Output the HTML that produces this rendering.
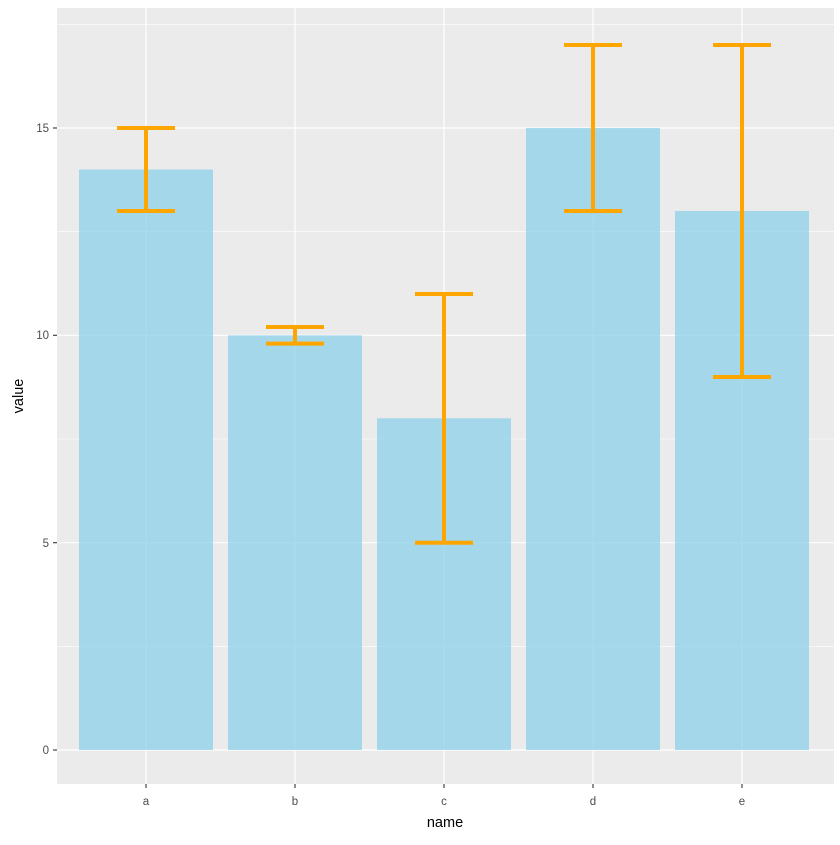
<!DOCTYPE html>
<html><head><meta charset="utf-8"><style>body{margin:0;background:#fff}</style></head><body>
<svg width="840" height="840" xmlns="http://www.w3.org/2000/svg" font-family="Liberation Sans, sans-serif">
<rect width="840" height="840" fill="#fff"/>
<rect x="57" y="8" width="777" height="776" fill="#ebebeb"/>
<g stroke="#fff" stroke-width="0.6">
<line x1="57" x2="834" y1="646.3" y2="646.3"/>
<line x1="57" x2="834" y1="439" y2="439"/>
<line x1="57" x2="834" y1="231.7" y2="231.7"/>
<line x1="57" x2="834" y1="24.4" y2="24.4"/>
</g>
<g stroke="#fff" stroke-width="1.2">
<line x1="57" x2="834" y1="750" y2="750"/>
<line x1="57" x2="834" y1="542.7" y2="542.7"/>
<line x1="57" x2="834" y1="335.3" y2="335.3"/>
<line x1="57" x2="834" y1="128" y2="128"/>
<line y1="8" y2="784" x1="146" x2="146"/>
<line y1="8" y2="784" x1="295" x2="295"/>
<line y1="8" y2="784" x1="444" x2="444"/>
<line y1="8" y2="784" x1="593" x2="593"/>
<line y1="8" y2="784" x1="742" x2="742"/>
</g>
<g fill="#87ceeb" fill-opacity="0.7">
<rect x="79" y="169.5" width="134" height="580.5"/>
<rect x="228" y="335.3" width="134" height="414.7"/>
<rect x="377" y="418.3" width="134" height="331.7"/>
<rect x="526" y="128" width="134" height="622"/>
<rect x="675" y="211" width="134" height="539"/>
</g>
<g stroke="#FFA500" stroke-width="4" fill="none">
<path d="M117 128H175M146 128V211M117 211H175"/>
<path d="M266 327H324M295 327V343.6M266 343.6H324"/>
<path d="M415 294H473M444 294V542.7M415 542.7H473"/>
<path d="M564 45H622M593 45V211M564 211H622"/>
<path d="M713 45H771M742 45V377M713 377H771"/>
</g>
<g stroke="#333" stroke-width="1.1">
<line x1="53" x2="57" y1="750" y2="750"/><line x1="53" x2="57" y1="542.7" y2="542.7"/>
<line x1="53" x2="57" y1="335.3" y2="335.3"/><line x1="53" x2="57" y1="128" y2="128"/>
<line y1="784" y2="788" x1="146" x2="146"/><line y1="784" y2="788" x1="295" x2="295"/>
<line y1="784" y2="788" x1="444" x2="444"/><line y1="784" y2="788" x1="593" x2="593"/>
<line y1="784" y2="788" x1="742" x2="742"/>
</g>
<g fill="#4d4d4d" font-size="11.5" text-anchor="end">
<text x="49" y="754">0</text><text x="49" y="547">5</text>
<text x="49" y="339">10</text><text x="49" y="132">15</text>
</g>
<g fill="#4d4d4d" font-size="11.5" text-anchor="middle">
<text x="146" y="805">a</text><text x="295" y="805">b</text><text x="444" y="805">c</text>
<text x="593" y="805">d</text><text x="742" y="805">e</text>
</g>
<text x="445" y="827" font-size="14.5" text-anchor="middle">name</text>
<text transform="translate(23,396) rotate(-90)" font-size="14.5" text-anchor="middle">value</text>
</svg>
</body></html>
